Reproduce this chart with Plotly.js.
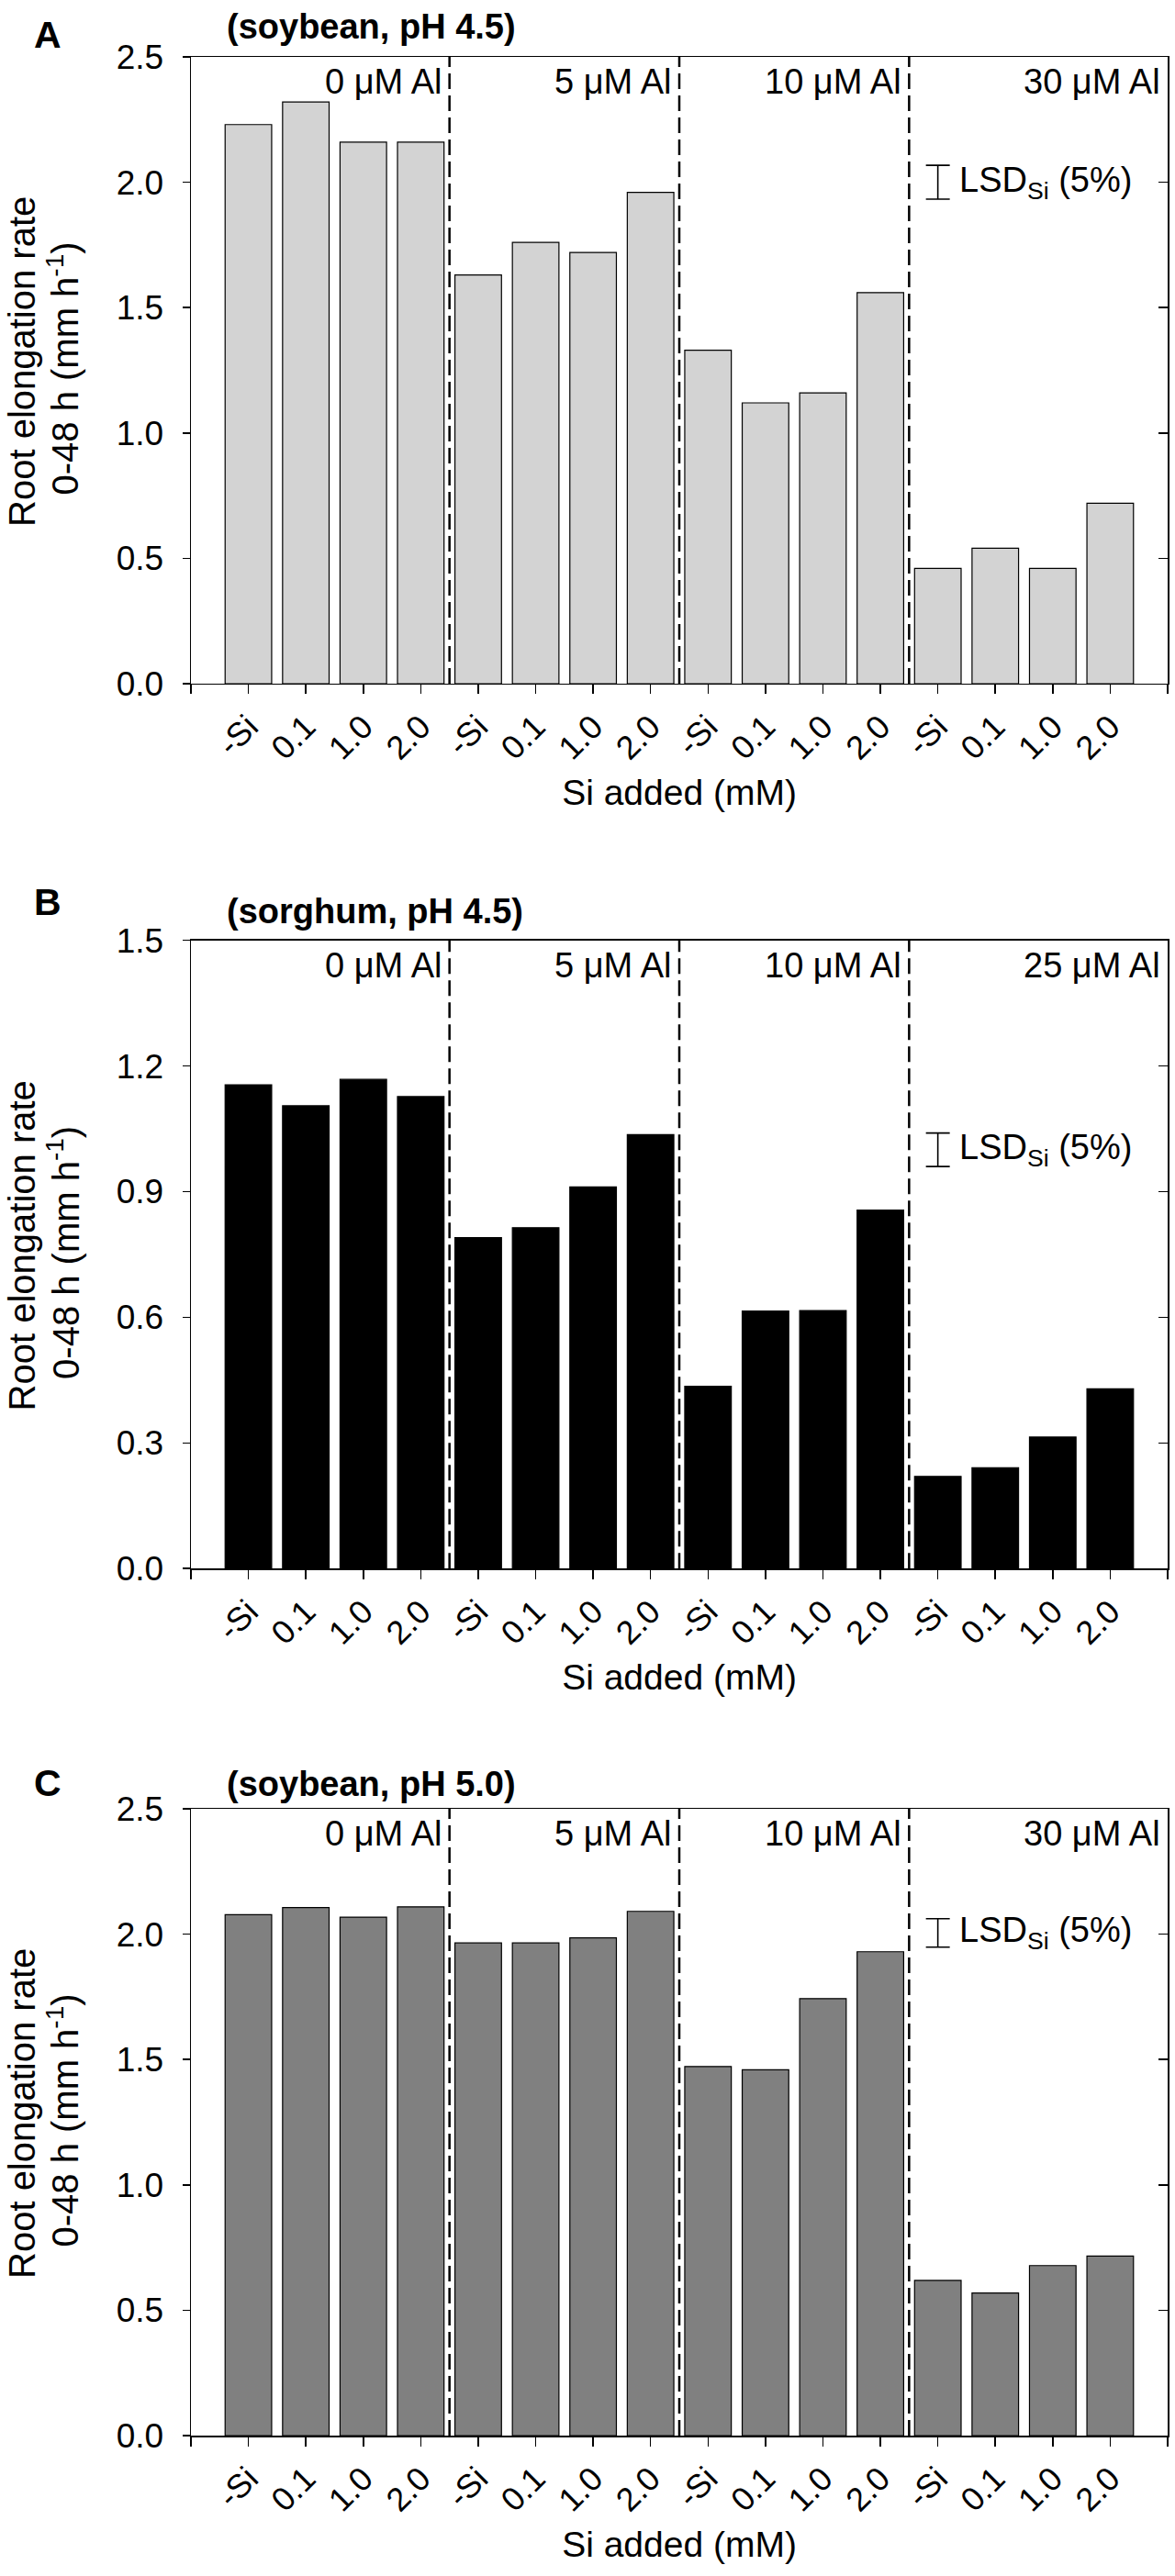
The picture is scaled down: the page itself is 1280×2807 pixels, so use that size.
<!DOCTYPE html>
<html>
<head>
<meta charset="utf-8">
<script src="https://cdn.plot.ly/plotly-3.0.1.min.js"></script>
<style>
  html, body { margin: 0; padding: 0; background: #fff; }
  #chart { width: 1280px; height: 2807px; }
</style>
</head>
<body>
<div id="chart"></div>
<script>
// Si treatments inside each Al group
var siLevels = ['-Si', '0.1', '1.0', '2.0'];

// Al groups
var alSoybean = ['0 μM Al', '5 μM Al', '10 μM Al', '30 μM Al'];
var alSorghum = ['0 μM Al', '5 μM Al', '10 μM Al', '25 μM Al'];

// root elongation rate 0-48 h (mm h-1)
var soybean45 = [2.23, 2.32, 2.16, 2.16, 1.63, 1.76, 1.72, 1.96, 1.33, 1.12, 1.16, 1.56, 0.46, 0.54, 0.46, 0.72];
var sorghum45 = [1.155, 1.105, 1.168, 1.127, 0.79, 0.814, 0.911, 1.036, 0.435, 0.615, 0.616, 0.856, 0.22, 0.241, 0.314, 0.429];
var soybean50 = [2.078, 2.106, 2.068, 2.109, 1.965, 1.965, 1.985, 2.091, 1.472, 1.459, 1.743, 1.93, 0.619, 0.569, 0.678, 0.716];

// LSD (5%) for Si, full length of the bar, and where it is drawn
var lsdSi = [0.135, 0.08, 0.113];
var lsdLevel = [2.0, 1.0, 2.005];

var panels = [
  { letter: 'A', subtitle: '(soybean, pH 4.5)', values: soybean45, groups: alSoybean, color: '#d3d3d3', ymax: 2.5, dtick: 0.5, domain: [0.7365, 1], letterY: 1.0091, subY: 1.0126 },
  { letter: 'B', subtitle: '(sorghum, pH 4.5)', values: sorghum45, groups: alSorghum, color: '#000000', ymax: 1.5, dtick: 0.3, domain: [0.3645, 0.6286], letterY: 0.6446, subY: 0.6410 },
  { letter: 'C', subtitle: '(soybean, pH 5.0)', values: soybean50, groups: alSoybean, color: '#808080', ymax: 2.5, dtick: 0.5, domain: [0, 0.2635], letterY: 0.2743, subY: 0.2740 }
];

var FONT = '"Liberation Sans", Arial, sans-serif';

var data = [];
var layout = {
  width: 1280,
  height: 2807,
  margin: { l: 208, r: 8, t: 62, b: 153 },
  paper_bgcolor: '#ffffff',
  plot_bgcolor: '#ffffff',
  showlegend: false,
  font: { family: FONT, size: 37, color: '#000' },
  annotations: [],
  shapes: []
};

panels.forEach(function (p, k) {
  var n = k === 0 ? '' : String(k + 1);
  var xName = 'x' + n, yName = 'y' + n;
  var rName = 'y' + (k + 4);

  var labels = [];
  p.groups.forEach(function () { labels = labels.concat(siLevels); });
  var xs = labels.map(function (_, i) { return i; });

  data.push({
    type: 'bar',
    x: xs,
    y: p.values,
    xaxis: xName,
    yaxis: yName,
    width: 0.81,
    marker: { color: p.color, line: { color: '#000', width: 1.2 } },
    hoverinfo: 'y'
  });

  // LSD bar drawn as an error bar
  data.push({
    type: 'scatter',
    mode: 'markers',
    x: [xs.length - 4],
    y: [lsdLevel[k]],
    xaxis: xName,
    yaxis: yName,
    marker: { size: 1, color: 'rgba(0,0,0,0)' },
    error_y: { type: 'data', array: [lsdSi[k] / 2], visible: true, color: '#000', thickness: 1.6, width: 13 },
    hoverinfo: 'skip'
  });

  // invisible trace for the right-hand inner ticks
  data.push({
    type: 'scatter', mode: 'markers', x: [0], y: [0], xaxis: xName, yaxis: rName,
    marker: { size: 1, color: 'rgba(0,0,0,0)' }, hoverinfo: 'skip'
  });

  layout['xaxis' + n] = {
    anchor: yName,
    domain: [0, 1],
    range: [-1, xs.length],
    tickmode: 'array',
    tickvals: xs,
    ticktext: labels,
    tickangle: -45,
    ticks: 'outside',
    ticklen: 10,
    tickwidth: 1.5,
    tickcolor: '#000',
    tickfont: { family: FONT, size: 36 },
    minor: { tickmode: 'array', tickvals: [-1, xs.length], ticks: 'outside', ticklen: 10, tickwidth: 1.5, tickcolor: '#000', showgrid: false },
    showline: true,
    linecolor: '#000',
    linewidth: 1.5,
    mirror: true,
    showgrid: false,
    zeroline: false,
    automargin: false,
    title: { text: 'Si added (mM)', font: { family: FONT, size: 39 }, standoff: 15 }
  };

  layout['yaxis' + n] = {
    anchor: xName,
    domain: p.domain,
    range: [0, p.ymax],
    tick0: 0,
    dtick: p.dtick,
    tickformat: '.1f',
    ticks: 'outside',
    ticklen: 8,
    tickwidth: 1.5,
    tickcolor: '#000',
    tickfont: { family: FONT, size: 37 },
    ticklabelstandoff: 13,
    showline: true,
    linecolor: '#000',
    linewidth: 1.5,
    mirror: true,
    showgrid: false,
    zeroline: false,
    automargin: false
  };

  layout['yaxis' + (k + 4)] = {
    overlaying: yName,
    anchor: xName,
    side: 'right',
    range: [0, p.ymax],
    tick0: 0,
    dtick: p.dtick,
    ticks: 'inside',
    ticklen: 10,
    tickwidth: 1.5,
    tickcolor: '#000',
    showticklabels: false,
    showline: false,
    showgrid: false,
    zeroline: false
  };

  // y-axis title, two lines
  layout.annotations.push({
    xref: 'paper', yref: yName + ' domain', x: -0.1729, y: 0.514,
    xanchor: 'center', yanchor: 'middle', textangle: -90,
    text: 'Root elongation rate', showarrow: false, font: { family: FONT, size: 40 }
  });
  layout.annotations.push({
    xref: 'paper', yref: yName + ' domain', x: -0.1306, y: 0.503,
    xanchor: 'center', yanchor: 'middle', textangle: -90,
    text: '0-48 h (mm h<sup>-1</sup>)', showarrow: false, font: { family: FONT, size: 40 }
  });

  // dashed separators between Al groups, and the Al group labels
  p.groups.forEach(function (g, j) {
    var edge = (j + 1) * siLevels.length - 0.5;
    if (j < p.groups.length - 1) {
      layout.shapes.push({
        type: 'line', xref: xName, yref: yName + ' domain',
        x0: edge, x1: edge, y0: 0, y1: 1,
        line: { color: '#000', width: 2.5, dash: '17px,7px' }
      });
    } else {
      edge = xs.length;
    }
    layout.annotations.push({
      xref: xName, yref: yName + ' domain',
      x: edge, y: 0.96, xanchor: 'right', yanchor: 'middle', xshift: -6,
      text: g, showarrow: false, font: { family: FONT, size: 38 }
    });
  });

  layout.annotations.push({
    xref: xName, yref: yName,
    x: xs.length - 4 + 0.34, y: lsdLevel[k], xanchor: 'left', yanchor: 'middle',
    text: 'LSD<sub>Si</sub> (5%)', showarrow: false, font: { family: FONT, size: 38 }
  });

  layout.annotations.push({
    xref: 'paper', yref: 'paper', x: -0.1466, y: p.letterY,
    xanchor: 'center', yanchor: 'middle',
    text: '<b>' + p.letter + '</b>', showarrow: false, font: { family: FONT, size: 41 }
  });
  layout.annotations.push({
    xref: 'paper', yref: 'paper', x: 0.0348, y: p.subY,
    xanchor: 'left', yanchor: 'middle',
    text: '<b>' + p.subtitle + '</b>', showarrow: false, font: { family: FONT, size: 38 }
  });
});

Plotly.newPlot('chart', data, layout, { displayModeBar: false, responsive: false, staticPlot: true });
</script>
</body>
</html>
